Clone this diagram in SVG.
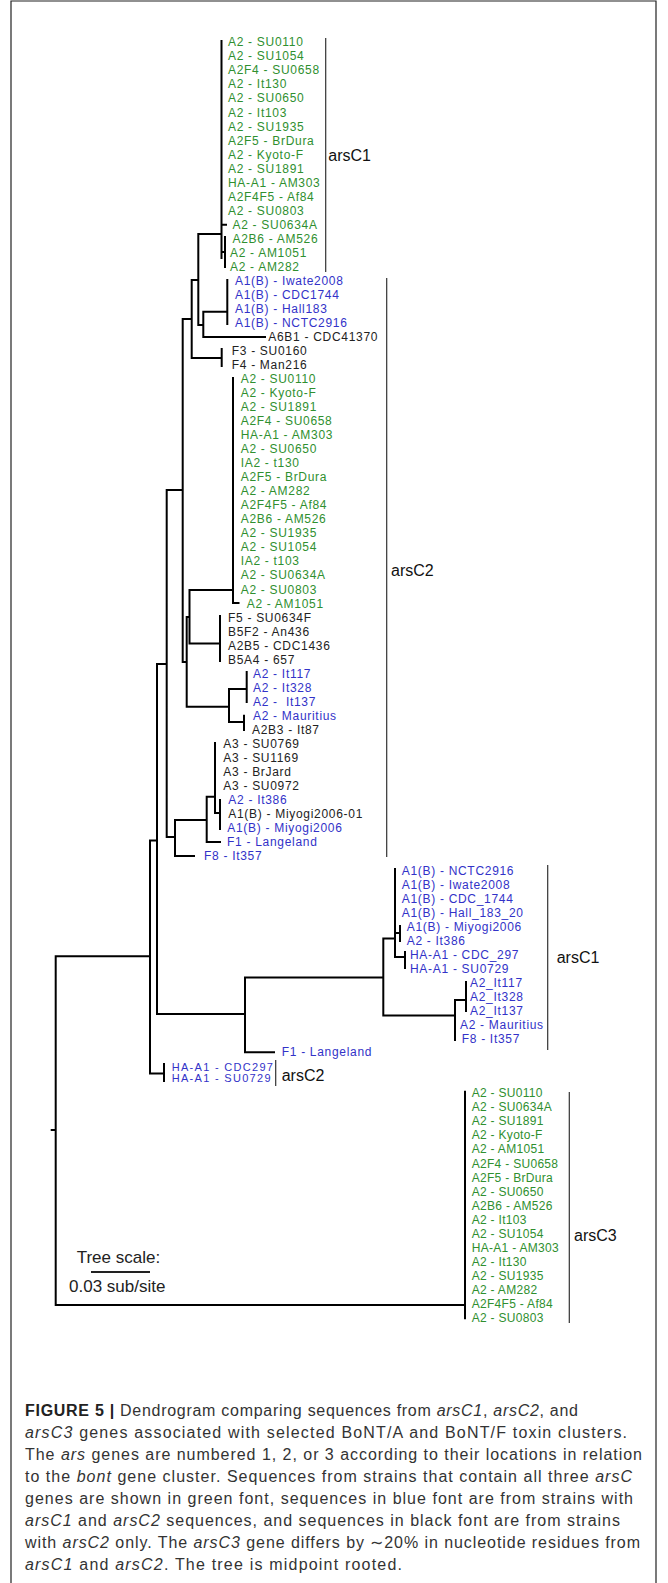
<svg xmlns="http://www.w3.org/2000/svg" width="668" height="1583" viewBox="0 0 668 1583">
<style>
text{font-family:"Liberation Sans",Arial,sans-serif}
.lf{font-size:12px;letter-spacing:0.7px}
.c3{font-size:12px;letter-spacing:0.3px}
.sm{font-size:11px;letter-spacing:1.3px}
.g{fill:#2f8f2f}.b{fill:#3232c8}.k{fill:#222}
.cl{font-size:16px;fill:#111}
.br{fill:none;stroke:#333;stroke-width:1.2}
.tr{fill:none;stroke:#000;stroke-width:2;stroke-linecap:square}
.cap{font-size:16px;fill:#333}
</style>
<rect width="668" height="1583" fill="#fff"/>
<path d="M11,1583 V1 H656 V1583" fill="none" stroke="#222" stroke-width="1.2"/>
<g id="connectors">
<path class="tr" d="M221.5,41 V258 M221.5,224.7 H226 M225,237 V267 M221.5,252 H225 M198.3,234 H221.5 M227.3,280 V324 M203.3,311.7 H227.3 M203.3,337 H265 M203.3,311.7 V337 M198.3,325 H203.3 M198.3,234 V325 M191.7,280 H198.3 M221.7,349 V366 M191.7,358 H221.7 M191.7,280 V358 M182.7,319 H191.7 M182.7,319 V662 M166.7,490 H182.7 M233,378 V603 H238.5 M189.5,590 H233 M220,616 V661 M189.5,643.5 H220 M189.5,590 V643.5 M186.7,617 H189.5 M229,689 V722 M186.7,706.7 H229 M246.7,672 V702 M229,689 H246.7 M244,715.7 V730 M229,722 H244 M186.7,617 V706.7 M182.7,662 H186.7 M215,743 V813 M220,800 V829 M215,813 H220 M206.7,796.7 H215 M206.7,842 H220 M206.7,796.7 V842 M175,820 H206.7 M175,856 H194 M175,820 V856 M166.7,837 H175 M166.7,490 V837 M157,664 H166.7 M157,664 V1014 M150,840.5 H157 M157,1014 H245 M245,977.6 V1052.3 M245,1052.3 H274 M245,977.6 H383.3 M383.3,938.5 V1015.5 M383.3,938.5 H395 M395,869 V957 M395,933 H400 M400,926 V941 M395,957 H405 M405,952 V968 M383.3,1015.5 H455 M455,1000 V1040 M455,1000 H466 M466,982 V1011 M150,840.5 V1073.5 M150,1073.5 H164 M164,1064 V1081 M55.7,956.3 H150 M55.7,956.3 V1305 M51.7,1130 H55.7 M55.7,1305 H465 M465,1091.7 V1318.3"/>
<path class="br" d="M325.7,38 V272 M386.7,278 V857 M547.7,865 V1050 M275.7,1060 V1086 M569.3,1092 V1323"/>
</g>
<g id="clade-labels">
<text class="cl" x="328.3" y="161">arsC1</text>
<text class="cl" x="391" y="576">arsC2</text>
<text class="cl" x="556.7" y="963">arsC1</text>
<text class="cl" x="281.7" y="1081">arsC2</text>
<text class="cl" x="574" y="1241">arsC3</text>
</g>
<g id="scale">
<text x="76.7" y="1263" font-size="17" fill="#222">Tree scale:</text>
<path d="M91,1272 H150" stroke="#222" stroke-width="2"/>
<text x="69" y="1292" font-size="17" fill="#222">0.03 sub/site</text>
</g>
<g id="arsC1-top" class="lf g">
<g id="t0"><text x="228" y="46.3">A2 - SU0110</text></g>
<g id="t1"><text x="228" y="60.3">A2 - SU1054</text></g>
<g id="t2"><text x="228" y="74.4">A2F4 - SU0658</text></g>
<g id="t3"><text x="228" y="88.4">A2 - It130</text></g>
<g id="t4"><text x="228" y="102.4">A2 - SU0650</text></g>
<g id="t5"><text x="228" y="116.5">A2 - It103</text></g>
<g id="t6"><text x="228" y="130.5">A2 - SU1935</text></g>
<g id="t7"><text x="228" y="144.5">A2F5 - BrDura</text></g>
<g id="t8"><text x="228" y="158.5">A2 - Kyoto-F</text></g>
<g id="t9"><text x="228" y="172.6">A2 - SU1891</text></g>
<g id="t10"><text x="228" y="186.6">HA-A1 - AM303</text></g>
<g id="t11"><text x="228" y="200.6">A2F4F5 - Af84</text></g>
<g id="t12"><text x="228" y="214.7">A2 - SU0803</text></g>
<g id="t13"><text x="232.5" y="228.7">A2 - SU0634A</text></g>
<g id="t14"><text x="232.5" y="242.7">A2B6 - AM526</text></g>
<g id="t15"><text x="230" y="256.8">A2 - AM1051</text></g>
<g id="t16"><text x="230" y="270.8">A2 - AM282</text></g>
</g>
<g id="A1B-top" class="lf b">
<g id="t17"><text x="235" y="284.8">A1(B) - Iwate2008</text></g>
<g id="t18"><text x="235" y="298.8">A1(B) - CDC1744</text></g>
<g id="t19"><text x="235" y="312.9">A1(B) - Hall183</text></g>
<g id="t20"><text x="235" y="326.9">A1(B) - NCTC2916</text></g>
</g>
<g id="black-top" class="lf k">
<g id="t21"><text x="268.3" y="340.9">A6B1 - CDC41370</text></g>
<g id="t22"><text x="231.7" y="355">F3 - SU0160</text></g>
<g id="t23"><text x="231.7" y="369">F4 - Man216</text></g>
</g>
<g id="arsC2-green" class="lf g">
<g id="t24"><text x="240.7" y="383">A2 - SU0110</text></g>
<g id="t25"><text x="240.7" y="397.1">A2 - Kyoto-F</text></g>
<g id="t26"><text x="240.7" y="411.1">A2 - SU1891</text></g>
<g id="t27"><text x="240.7" y="425.1">A2F4 - SU0658</text></g>
<g id="t28"><text x="240.7" y="439.1">HA-A1 - AM303</text></g>
<g id="t29"><text x="240.7" y="453.2">A2 - SU0650</text></g>
<g id="t30"><text x="240.7" y="467.2">IA2 - t130</text></g>
<g id="t31"><text x="240.7" y="481.2">A2F5 - BrDura</text></g>
<g id="t32"><text x="240.7" y="495.3">A2 - AM282</text></g>
<g id="t33"><text x="240.7" y="509.3">A2F4F5 - Af84</text></g>
<g id="t34"><text x="240.7" y="523.3">A2B6 - AM526</text></g>
<g id="t35"><text x="240.7" y="537.4">A2 - SU1935</text></g>
<g id="t36"><text x="240.7" y="551.4">A2 - SU1054</text></g>
<g id="t37"><text x="240.7" y="565.4">IA2 - t103</text></g>
<g id="t38"><text x="240.7" y="579.4">A2 - SU0634A</text></g>
<g id="t39"><text x="240.7" y="593.5">A2 - SU0803</text></g>
<g id="t40"><text x="246.7" y="607.5">A2 - AM1051</text></g>
</g>
<g id="B5-group" class="lf k">
<g id="t41"><text x="228" y="621.5">F5 - SU0634F</text></g>
<g id="t42"><text x="228" y="635.6">B5F2 - An436</text></g>
<g id="t43"><text x="228" y="649.6">A2B5 - CDC1436</text></g>
<g id="t44"><text x="228" y="663.6">B5A4 - 657</text></g>
</g>
<g id="It-group" class="lf">
<g id="t45"><text class="b" x="253" y="677.7">A2 - It117</text></g>
<g id="t46"><text class="b" x="253" y="691.7">A2 - It328</text></g>
<g id="t47"><text class="b" x="253" y="705.7" xml:space="preserve">A2 -  It137</text></g>
<g id="t48"><text class="b" x="253" y="719.7">A2 - Mauritius</text></g>
<g id="t49"><text class="k" x="252" y="733.8">A2B3 - It87</text></g>
</g>
<g id="A3-group" class="lf">
<g id="t50"><text class="k" x="223.3" y="747.8">A3 - SU0769</text></g>
<g id="t51"><text class="k" x="223.3" y="761.8">A3 - SU1169</text></g>
<g id="t52"><text class="k" x="223.3" y="775.9">A3 - BrJard</text></g>
<g id="t53"><text class="k" x="223.3" y="789.9">A3 - SU0972</text></g>
<g id="t54"><text class="b" x="228.3" y="803.9">A2 - It386</text></g>
<g id="t55"><text class="k" x="228.3" y="818">A1(B) - Miyogi2006-01</text></g>
<g id="t56"><text class="b" x="227.3" y="832">A1(B) - Miyogi2006</text></g>
<g id="t57"><text class="b" x="227" y="846">F1 - Langeland</text></g>
<g id="t58"><text class="b" x="204" y="860">F8 - It357</text></g>
</g>
<g id="arsC1-low" class="lf b">
<g id="u0"><text x="401.7" y="874.5">A1(B) - NCTC2916</text></g>
<g id="u1"><text x="401.7" y="888.5">A1(B) - Iwate2008</text></g>
<g id="u2"><text x="401.7" y="902.5">A1(B) - CDC_1744</text></g>
<g id="u3"><text x="401.7" y="916.5">A1(B) - Hall_183_20</text></g>
<g id="u4"><text x="406.7" y="930.5">A1(B) - Miyogi2006</text></g>
<g id="u5"><text x="406.7" y="944.5">A2 - It386</text></g>
<g id="u6"><text x="410" y="958.5">HA-A1 - CDC_297</text></g>
<g id="u7"><text x="410" y="972.5">HA-A1 - SU0729</text></g>
<g id="u8"><text x="470" y="986.5">A2_It117</text></g>
<g id="u9"><text x="470" y="1000.5">A2_It328</text></g>
<g id="u10"><text x="470" y="1014.5">A2_It137</text></g>
<g id="u11"><text x="460" y="1028.5">A2 - Mauritius</text></g>
<g id="u12"><text x="461.7" y="1042.5">F8 - It357</text></g>
</g>
<g id="F1-low"><text class="lf b" x="281.7" y="1056.3">F1 - Langeland</text></g>
<g id="HA-pair" class="sm b">
<g id="h0"><text x="171.7" y="1071">HA-A1 - CDC297</text></g>
<g id="h1"><text x="171.7" y="1082">HA-A1 - SU0729</text></g>
</g>
<g id="arsC3" class="c3 g">
<g id="v0"><text x="471.7" y="1097.3">A2 - SU0110</text></g>
<g id="v1"><text x="471.7" y="1111.3">A2 - SU0634A</text></g>
<g id="v2"><text x="471.7" y="1125.4">A2 - SU1891</text></g>
<g id="v3"><text x="471.7" y="1139.4">A2 - Kyoto-F</text></g>
<g id="v4"><text x="471.7" y="1153.4">A2 - AM1051</text></g>
<g id="v5"><text x="471.7" y="1167.5">A2F4 - SU0658</text></g>
<g id="v6"><text x="471.7" y="1181.5">A2F5 - BrDura</text></g>
<g id="v7"><text x="471.7" y="1195.5">A2 - SU0650</text></g>
<g id="v8"><text x="471.7" y="1209.5">A2B6 - AM526</text></g>
<g id="v9"><text x="471.7" y="1223.6">A2 - It103</text></g>
<g id="v10"><text x="471.7" y="1237.6">A2 - SU1054</text></g>
<g id="v11"><text x="471.7" y="1251.6">HA-A1 - AM303</text></g>
<g id="v12"><text x="471.7" y="1265.7">A2 - It130</text></g>
<g id="v13"><text x="471.7" y="1279.7">A2 - SU1935</text></g>
<g id="v14"><text x="471.7" y="1293.7">A2 - AM282</text></g>
<g id="v15"><text x="471.7" y="1307.8">A2F4F5 - Af84</text></g>
<g id="v16"><text x="471.7" y="1321.8">A2 - SU0803</text></g>
</g>
<g id="caption" class="cap">
<text x="25" y="1415.5" textLength="553" lengthAdjust="spacing"><tspan font-weight="bold" fill="#222">FIGURE 5 |</tspan> Dendrogram comparing sequences from <tspan font-style="italic">arsC1</tspan>, <tspan font-style="italic">arsC2</tspan>, and</text>
<text x="25" y="1437.6" textLength="602" lengthAdjust="spacing"><tspan font-style="italic">arsC3</tspan> genes associated with selected BoNT/A and BoNT/F toxin clusters.</text>
<text x="25" y="1459.7" textLength="617" lengthAdjust="spacing">The <tspan font-style="italic">ars</tspan> genes are numbered 1, 2, or 3 according to their locations in relation</text>
<text x="25" y="1481.8" textLength="607" lengthAdjust="spacing">to the <tspan font-style="italic">bont</tspan> gene cluster. Sequences from strains that contain all three <tspan font-style="italic">arsC</tspan></text>
<text x="25" y="1503.9" textLength="608" lengthAdjust="spacing">genes are shown in green font, sequences in blue font are from strains with</text>
<text x="25" y="1526" textLength="595" lengthAdjust="spacing"><tspan font-style="italic">arsC1</tspan> and <tspan font-style="italic">arsC2</tspan> sequences, and sequences in black font are from strains</text>
<text x="25" y="1548.1" textLength="615" lengthAdjust="spacing">with <tspan font-style="italic">arsC2</tspan> only. The <tspan font-style="italic">arsC3</tspan> gene differs by ∼20% in nucleotide residues from</text>
<text x="25" y="1570.2" textLength="377" lengthAdjust="spacing"><tspan font-style="italic">arsC1</tspan> and <tspan font-style="italic">arsC2</tspan>. The tree is midpoint rooted.</text>
</g>
</svg>
